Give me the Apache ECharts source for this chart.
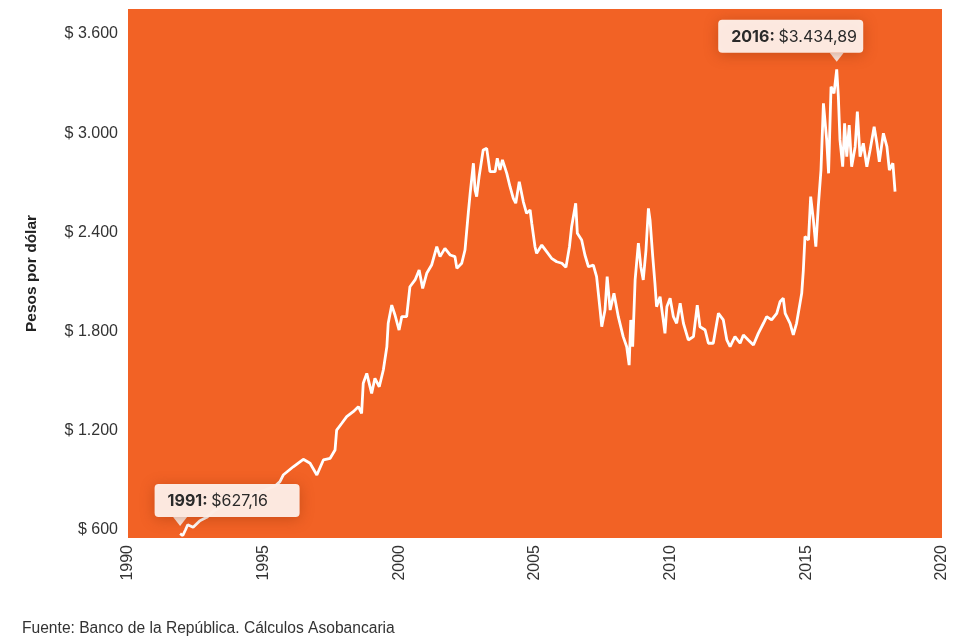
<!DOCTYPE html>
<html>
<head>
<meta charset="utf-8">
<script src="https://cdn.jsdelivr.net/npm/echarts@6/dist/echarts.min.js"></script>
<style>
  html, body { margin: 0; padding: 0; background: #ffffff; }
  #chart { width: 959px; height: 637px; }
</style>
</head>
<body>
<div id="chart"></div>
<script>
// Tasa de cambio COP/USD (pesos por dólar), en años decimales
const dates = [
  1991.92, 1992.02, 1992.12, 1992.20, 1992.40, 1992.65, 1992.90,
  1993.21, 1993.76, 1994.31, 1994.68, 1995.05, 1995.42,
  1995.60, 1995.72, 1996.09, 1996.46, 1996.71, 1996.96, 1997.20, 1997.45, 1997.63,
  1997.69, 1997.88, 1998.06, 1998.30, 1998.49, 1998.61, 1998.67, 1998.80, 1998.98, 1999.10, 1999.26, 1999.41, 1999.54, 1999.59, 1999.72, 1999.84, 1999.99,
  2000.09, 2000.27, 2000.39, 2000.58, 2000.73, 2000.86, 2001.01, 2001.19, 2001.38, 2001.50, 2001.68, 2001.87, 2002.05, 2002.12, 2002.30, 2002.42, 2002.54, 2002.61, 2002.73, 2002.79, 2002.85, 2002.94,
  2003.09, 2003.22, 2003.34, 2003.53, 2003.61, 2003.71, 2003.80, 2003.96,
  2004.08, 2004.20, 2004.29, 2004.42, 2004.57, 2004.69, 2004.82, 2004.88,
  2005.00, 2005.06, 2005.25, 2005.43, 2005.61, 2005.80, 2005.99,
  2006.14, 2006.27, 2006.35, 2006.50, 2006.56, 2006.72, 2006.84, 2006.97,
  2007.15, 2007.27, 2007.40, 2007.46, 2007.58, 2007.66, 2007.77, 2007.91,
  2008.07, 2008.25, 2008.38, 2008.47, 2008.53, 2008.60, 2008.69, 2008.81, 2008.90, 2008.99,
  2009.09, 2009.18, 2009.24, 2009.34, 2009.42, 2009.48, 2009.61, 2009.71, 2009.79, 2009.86, 2009.98,
  2010.10, 2010.22, 2010.35, 2010.47, 2010.65, 2010.84, 2010.98,
  2011.08, 2011.27, 2011.39, 2011.57, 2011.76, 2011.94,
  2012.07, 2012.19, 2012.37, 2012.56, 2012.68, 2012.86,
  2013.05, 2013.23, 2013.42, 2013.54, 2013.72, 2013.91,
  2014.03, 2014.15, 2014.22, 2014.40, 2014.52, 2014.64, 2014.83, 2014.89, 2014.95,
  2015.08, 2015.16, 2015.26, 2015.35, 2015.44, 2015.54, 2015.63, 2015.75, 2015.82, 2015.91,
  2016.02, 2016.12, 2016.18, 2016.24, 2016.34, 2016.41, 2016.49, 2016.58, 2016.67, 2016.80, 2016.88, 2016.98,
  2017.10, 2017.23, 2017.35, 2017.50, 2017.60, 2017.69, 2017.84, 2017.97,
  2018.06, 2018.19, 2018.27
];

const rates = [
  627.16, 615, 650, 680, 665, 705, 725,
  770, 812, 848, 866, 890, 915,
  941, 981, 1031, 1076, 1052, 981, 1072, 1082, 1132,
  1253, 1294, 1334, 1364, 1394, 1354, 1536, 1596, 1475, 1566, 1515, 1616, 1757, 1899, 2009, 1949, 1858,
  1939, 1939, 2120, 2161, 2221, 2110, 2201, 2251, 2362, 2302, 2352, 2312, 2302, 2231, 2262, 2342, 2564, 2685, 2867, 2705, 2665, 2786,
  2947, 2957, 2816, 2816, 2897, 2826, 2887, 2806,
  2725, 2655, 2625, 2755, 2634, 2564, 2584, 2504,
  2362, 2322, 2372, 2332, 2292, 2271, 2262,
  2237, 2362, 2483, 2625, 2443, 2403, 2312, 2241,
  2251, 2181, 1979, 1878, 1979, 2181, 1979, 2080,
  1939, 1818, 1757, 1646, 1919, 1757, 2161, 2383, 2241, 2161,
  2342, 2594, 2523, 2302, 2141, 1999, 2060, 1939, 1838, 1999, 2050,
  1939, 1899, 2020, 1899, 1798, 1818, 2009,
  1878, 1858, 1778, 1778, 1959, 1919,
  1798, 1757, 1818, 1778, 1828, 1798,
  1767, 1838, 1899, 1939, 1919, 1959,
  2029, 2050, 1959, 1899, 1828, 1899, 2080, 2221, 2423,
  2403, 2665, 2524, 2362, 2604, 2826, 3229, 3008, 2806, 3330,
  3290, 3434.89, 3270, 3008, 2846, 3109, 2907, 3098, 2846, 2967, 3179, 2907,
  2988, 2846, 2947, 3088, 2988, 2876, 3048, 2967,
  2826, 2867, 2695
];

// Ejes
const yTicks = [600, 1200, 1800, 2400, 3000, 3600];
const xTicks = [1990, 1995, 2000, 2005, 2010, 2015, 2020];

// Valores destacados
const noteDates = [1991.92, 2016.12];
const noteRates = [627.16, 3434.89];
const noteYears = ['1991', '2016'];

const thousands = (n) => String(n).replace(/\B(?=(\d{3})+(?!\d))/g, '.');
const money = (v) => {
  const [ip, dp] = v.toFixed(2).split('.');
  return '$' + thousands(ip) + ',' + dp;
};

const boxColor = 'rgba(253,237,230,0.97)';
const noteOffsets = [[47, 0], [-46, 0]];

const chart = echarts.init(document.getElementById('chart'), null, { renderer: 'canvas' });

chart.setOption({
  animation: false,
  textStyle: { fontFamily: '"Liberation Sans", Arial, sans-serif' },
  grid: {
    left: 128, right: 17, top: 9, bottom: 99,
    show: true, backgroundColor: '#F26225', borderWidth: 0
  },
  xAxis: {
    type: 'value',
    min: 1990, max: 2020, interval: 5,
    axisLine: { show: false },
    axisTick: { show: false },
    splitLine: { show: false },
    axisLabel: {
      customValues: xTicks,
      rotate: 90, margin: 7,
      color: '#333333', fontSize: 16,
      fontFamily: '"Liberation Sans", Arial, sans-serif',
      formatter: (v) => String(v)
    }
  },
  yAxis: {
    type: 'value',
    min: 600, max: 3800,
    name: 'Pesos por dólar',
    nameLocation: 'middle',
    nameRotate: 90,
    nameGap: 88,
    nameTextStyle: {
      color: '#222222', fontSize: 15.5, fontWeight: 'bold',
      fontFamily: '"Liberation Sans", Arial, sans-serif'
    },
    axisLine: { show: false },
    axisTick: { show: false },
    splitLine: { show: false },
    axisLabel: {
      customValues: yTicks,
      margin: 10,
      verticalAlign: 'bottom',
      color: '#333333', fontSize: 16,
      fontFamily: '"Liberation Sans", Arial, sans-serif',
      formatter: (v) => '$ ' + thousands(v)
    }
  },
  series: [{
    type: 'line',
    data: dates.map((d, i) => [d, rates[i]]),
    showSymbol: false,
    symbol: 'none',
    lineStyle: { color: '#ffffff', width: 2.8 },
    z: 2,
    markPoint: {
      z: 5,
      symbol: 'triangle',
      symbolRotate: 180,
      symbolSize: [14, 9],
      symbolOffset: [0, -12],
      itemStyle: { color: boxColor },
      label: {
        show: true,
        position: 'top',
        distance: 0,
        width: 120,
        backgroundColor: boxColor,
        borderRadius: 4,
        padding: [9, 12, 8, 13],
        shadowBlur: 14,
        shadowColor: 'rgba(120,40,0,0.35)',
        shadowOffsetY: 2,
        rich: {
          b: { fontFamily: 'Inter, "Open Sans", sans-serif', fontWeight: 'bold', fontSize: 16, color: '#2a2a2a', align: 'left' },
          v: { fontFamily: 'Inter, "Open Sans", sans-serif', fontSize: 16, color: '#2a2a2a', align: 'left' }
        }
      },
      data: noteDates.map((d, i) => ({
        coord: [d, noteRates[i]],
        label: {
          offset: noteOffsets[i],
          formatter: '{b|' + noteYears[i] + ': }{v|' + money(noteRates[i]) + '}'
        }
      }))
    }
  }],
  graphic: [{
    type: 'text',
    left: 22,
    top: 621,
    style: {
      text: 'Fuente: Banco de la República. Cálculos Asobancaria',
      fill: '#333333',
      font: '15.6px "Liberation Sans", Arial, sans-serif'
    }
  }]
});
</script>
</body>
</html>
